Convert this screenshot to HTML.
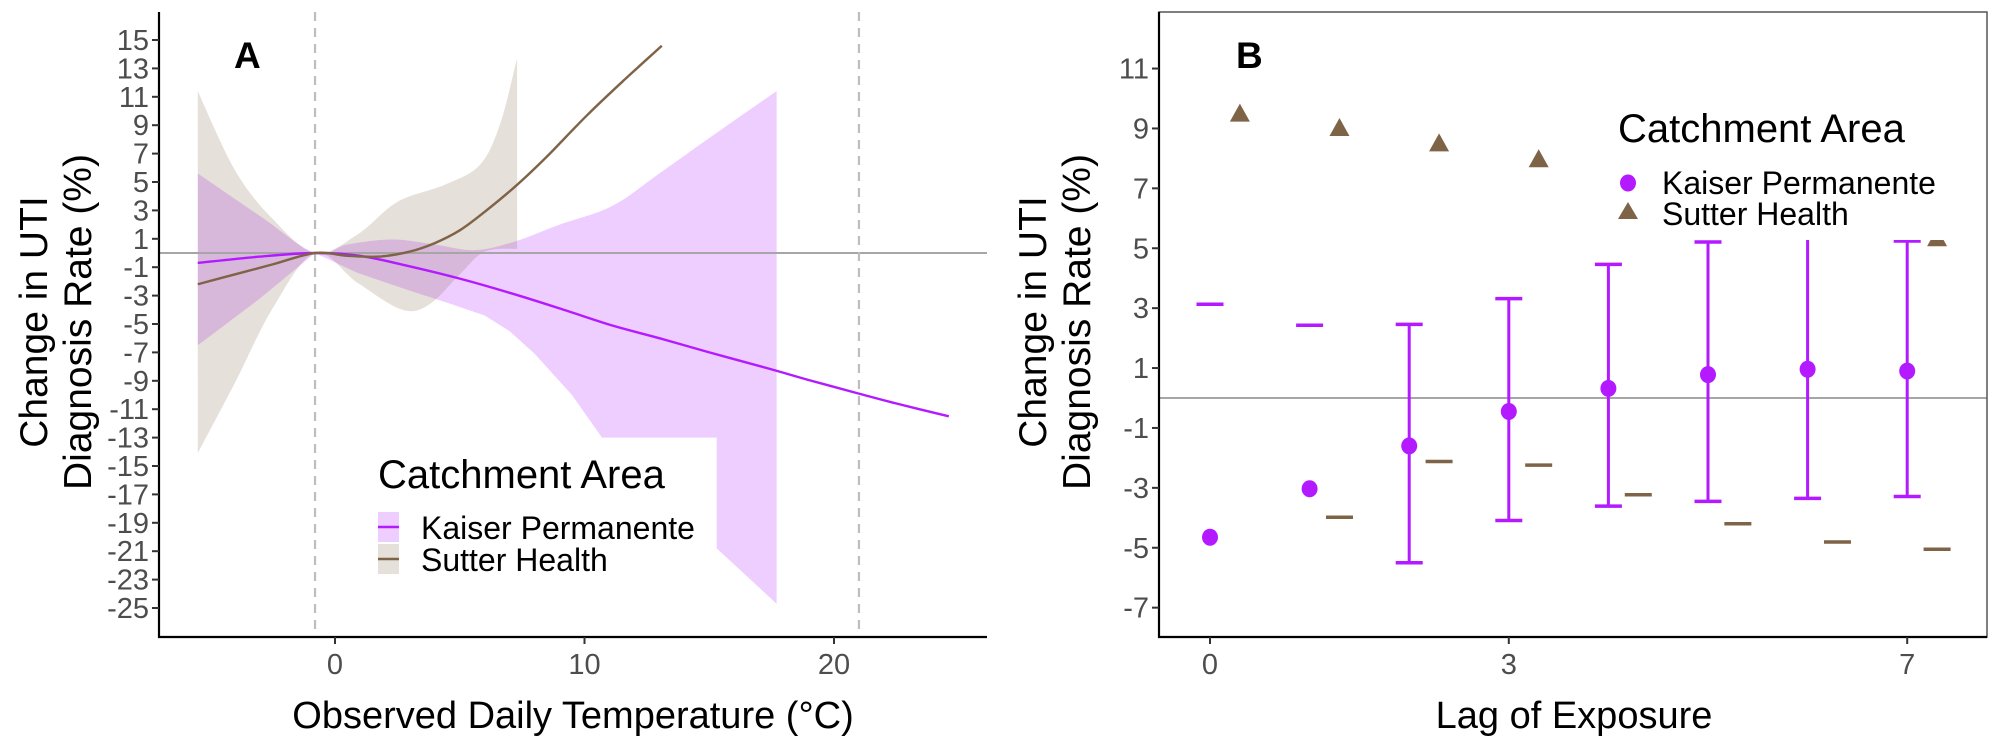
<!DOCTYPE html>
<html><head><meta charset="utf-8">
<style>
html,body{margin:0;padding:0;background:#fff;}
svg{display:block;font-family:"Liberation Sans",Arial,sans-serif;}
</style></head>
<body>
<svg id="chart" width="2000" height="750" viewBox="0 0 2000 750" xmlns="http://www.w3.org/2000/svg">
  <g id="panelA"></g>
  <g id="panelB"></g>
</svg>
<script>
// ---------- Panel A data ----------
const aYTicks = [15,13,11,9,7,5,3,1,-1,-3,-5,-7,-9,-11,-13,-15,-17,-19,-21,-23,-25];
const aXTicks = [0,10,20];
const aRefTemps = [-0.8, 21.0];
const kpBandUpperT = [-5.5,-3,-0.8,0.5,2.3,4,5.6,7.2,9,11.1,13,15,17.7];
const kpBandUpperV = [5.6,2.6,0,0.6,0.95,0.6,0.2,0.8,2.0,3.3,5.6,8.1,11.4];
const kpBandLowerT = [-5.5,-3,-0.8,0.9,2.9,4.5,6.0,7,8,9.5,10.7,15.3,15.3,17.7];
const kpBandLowerV = [-6.5,-3.2,0,-1.4,-2.6,-3.5,-4.4,-5.5,-7.1,-10,-13,-13,-20.8,-24.7];
const shBandUpperT = [-5.5,-4,-2.5,-0.8,0.9,2.5,4.4,5.8,6.6,7.3];
const shBandUpperV = [11.4,5.8,2.4,0,1.3,3.6,4.8,6.2,9,13.7];
const shBandLowerT = [-5.5,-4,-2.5,-0.8,0.9,2.7,3.8,5,6,7.3];
const shBandLowerV = [-14.1,-9.1,-3.9,0,-2.1,-4.0,-3.6,-1.5,0.1,0.3];
const kpLineT = [-5.5,-3,-0.8,1,2.9,5,7,9,11.1,13,15,17.3,19,21,22.5,24.6];
const kpLineV = [-0.7,-0.25,0,-0.2,-0.9,-1.8,-2.8,-3.9,-5.1,-6.0,-7.0,-8.1,-8.95,-9.9,-10.6,-11.5];
const shLineT = [-5.5,-4,-2.5,-0.8,0.5,1.8,3,4,5,6,7.3,8.5,10.1,11.6,13.1];
const shLineV = [-2.2,-1.5,-0.8,0,-0.2,-0.25,0.1,0.7,1.6,2.9,4.8,6.8,9.7,12.2,14.6];

// ---------- Panel B data ----------
const bYTicks = [11,9,7,5,3,1,-1,-3,-5,-7];
const bXTicks = [0,3,7];
const lags = [0,1,2,3,4,5,6,7];
const kpEst = [-4.65,-3.03,-1.6,-0.45,0.32,0.78,0.96,0.9];
const kpUpper = [3.13,2.43,2.46,3.32,4.46,5.21,5.6,5.24];
const kpLower = [null,null,-5.5,-4.09,-3.61,-3.45,-3.35,-3.29];
const shEst = [9.46,8.98,8.47,7.94,7.4,6.9,6.3,5.3];
const shLower = [null,-3.98,-2.12,-2.24,-3.23,-4.2,-4.81,-5.05];
const shOffset = 0.3;

const NS = "http://www.w3.org/2000/svg";
const PURPLE = "#b31aff", BROWN = "#7f6347";
function mk(parent, tag, attrs, text) {
  const e = document.createElementNS(NS, tag);
  for (const k in attrs) e.setAttribute(k, attrs[k]);
  if (text !== undefined) e.textContent = text;
  parent.appendChild(e);
  return e;
}
function path(xs, ys, sx, sy) {
  return xs.map((t,i)=>(i?"L":"M")+sx(t).toFixed(1)+","+sy(ys[i]).toFixed(1)).join("");
}
function smooth(xs, ys, sx, sy) {
  const p = xs.map((t,i)=>[sx(t), sy(ys[i])]);
  let d = "M"+p[0][0]+","+p[0][1];
  for (let i=0;i<p.length-1;i++){
    const p0=p[Math.max(0,i-1)], p1=p[i], p2=p[i+1], p3=p[Math.min(p.length-1,i+2)];
    const c1=[p1[0]+(p2[0]-p0[0])/6, p1[1]+(p2[1]-p0[1])/6];
    const c2=[p2[0]-(p3[0]-p1[0])/6, p2[1]-(p3[1]-p1[1])/6];
    d += "C"+c1[0].toFixed(1)+","+c1[1].toFixed(1)+" "+c2[0].toFixed(1)+","+c2[1].toFixed(1)+" "+p2[0].toFixed(1)+","+p2[1].toFixed(1);
  }
  return d;
}

// ---------- Panel A ----------
(function(){
  const g = document.getElementById("panelA");
  const L=159, R=987, T=12, B=637;
  const xA = t => 335 + t*24.95;
  const yA = v => 253 - v*14.2;

  const kpBand = mk(g,"path",{d: smooth(kpBandUpperT,kpBandUpperV,xA,yA) + path(kpBandLowerT.slice().reverse(),kpBandLowerV.slice().reverse(),xA,yA).replace(/^M/,"L")+"Z", fill:PURPLE, "fill-opacity":"0.22"});
  
  
  const shBand = mk(g,"path",{d: smooth(shBandUpperT,shBandUpperV,xA,yA) + smooth(shBandLowerT.slice().reverse(),shBandLowerV.slice().reverse(),xA,yA).replace(/^M/,"L")+"Z", fill:BROWN, "fill-opacity":"0.2"});
  
  

  const z = mk(g,"line",{x1:L,x2:R,y1:yA(0),y2:yA(0),stroke:"#a6a6a6","stroke-width":2});
  
  
  aRefTemps.forEach(t=>{
    const d = mk(g,"line",{x1:xA(t),x2:xA(t),y1:T,y2:B,stroke:"#bdbdbd","stroke-width":2.2,"stroke-dasharray":"9,7"});
    
    
  });
  const kl = mk(g,"path",{d:smooth(kpLineT,kpLineV,xA,yA),fill:"none",stroke:PURPLE,"stroke-width":2.4});
  
  
  const sl = mk(g,"path",{d:smooth(shLineT,shLineV,xA,yA),fill:"none",stroke:BROWN,"stroke-width":2.4});
  
  

  const ax = mk(g,"path",{d:`M${L},${T}L${L},${B}L${R},${B}`,fill:"none",stroke:"#000","stroke-width":2.2});
  
  
  aYTicks.forEach(v=>{
    mk(g,"line",{x1:L-7,x2:L,y1:yA(v),y2:yA(v),stroke:"#333","stroke-width":2});
    const t = mk(g,"text",{x:L-10,y:yA(v)+10,"text-anchor":"end","font-size":29,fill:"#4d4d4d"},v);
    
    
  });
  aXTicks.forEach(v=>{
    mk(g,"line",{x1:xA(v),x2:xA(v),y1:B,y2:B+7,stroke:"#333","stroke-width":2});
    const t = mk(g,"text",{x:xA(v),y:B+37,"text-anchor":"middle","font-size":29,fill:"#4d4d4d"},v);
    
    
  });
  const yt = mk(g,"text",{transform:"translate(47,322) rotate(-90)","text-anchor":"middle","font-size":39,fill:"#000"});
  
  
  mk(yt,"tspan",{x:0,dy:0},"Change in UTI");
  mk(yt,"tspan",{x:0,dy:44},"Diagnosis Rate (%)");
  const xt = mk(g,"text",{x:573,y:728,"text-anchor":"middle","font-size":38,fill:"#000"},"Observed Daily Temperature (°C)");
  
  
  const lab = mk(g,"text",{x:234,y:68,"font-size":37,"font-weight":"bold",fill:"#000"},"A");
  
  

  const lg = mk(g,"g",{});
  
  
  mk(lg,"text",{x:378,y:488,"font-size":40,fill:"#000"},"Catchment Area");
  mk(lg,"rect",{x:378,y:512,width:21,height:30,fill:PURPLE,"fill-opacity":"0.22"});
  mk(lg,"line",{x1:378,x2:399,y1:527,y2:527,stroke:PURPLE,"stroke-width":2.4});
  mk(lg,"rect",{x:378,y:544,width:21,height:30,fill:BROWN,"fill-opacity":"0.2"});
  mk(lg,"line",{x1:378,x2:399,y1:559,y2:559,stroke:BROWN,"stroke-width":2.4});
  const e1 = mk(lg,"text",{x:421,y:539,"font-size":32,fill:"#000"},"Kaiser Permanente");
  
  
  const e2 = mk(lg,"text",{x:421,y:571,"font-size":32,fill:"#000"},"Sutter Health");
  
  
})();

// ---------- Panel B ----------
(function(){
  const g = document.getElementById("panelB");
  const L=1159, R=1987, T=12, B=637;
  const xB = l => 1210 + l*99.6;
  const yB = v => 398 - v*29.95;
  const cap = 13.5;

  const z = mk(g,"line",{x1:L,x2:R,y1:yB(0),y2:yB(0),stroke:"#a6a6a6","stroke-width":2});
  
  

  lags.forEach((l,i)=>{
    const x = xB(l);
    if (kpLower[i] !== null) {
      const v = mk(g,"line",{x1:x,x2:x,y1:yB(kpUpper[i]),y2:yB(kpLower[i]),stroke:PURPLE,"stroke-width":3});
      
      
      mk(g,"line",{x1:x-cap,x2:x+cap,y1:yB(kpLower[i]),y2:yB(kpLower[i]),stroke:PURPLE,"stroke-width":3.5});
    }
    const c = mk(g,"line",{x1:x-cap,x2:x+cap,y1:yB(kpUpper[i]),y2:yB(kpUpper[i]),stroke:PURPLE,"stroke-width":3.5});
    
    
    const p = mk(g,"ellipse",{cx:x,cy:yB(kpEst[i]),rx:8,ry:8.5,fill:PURPLE});
    
    
    const sx = xB(l+shOffset);
    if (shLower[i] !== null) {
      const d = mk(g,"line",{x1:sx-cap,x2:sx+cap,y1:yB(shLower[i]),y2:yB(shLower[i]),stroke:BROWN,"stroke-width":3.5});
      
      
    }
    const sy = yB(shEst[i]);
    const tr = mk(g,"polygon",{points:`${sx},${sy-11} ${sx+10},${sy+7} ${sx-10},${sy+7}`,fill:BROWN});
    
    
  });

  const lg = mk(g,"g",{});
  
  
  mk(lg,"rect",{x:1602,y:88,width:350,height:152,fill:"#fff"});
  mk(lg,"text",{x:1618,y:142,"font-size":40,fill:"#000"},"Catchment Area");
  mk(lg,"ellipse",{cx:1628,cy:183,rx:8,ry:8.5,fill:PURPLE});
  mk(lg,"polygon",{points:"1628,202 1638,219 1618,219",fill:BROWN});
  const e1 = mk(lg,"text",{x:1662,y:194,"font-size":32,fill:"#000"},"Kaiser Permanente");
  
  
  const e2 = mk(lg,"text",{x:1662,y:225,"font-size":32,fill:"#000"},"Sutter Health");
  
  

  mk(g,"rect",{x:L,y:T,width:R-L,height:B-T,fill:"none",stroke:"#555","stroke-width":1.5});
  const ax = mk(g,"path",{d:`M${L},${T}L${L},${B}L${R},${B}`,fill:"none",stroke:"#000","stroke-width":2.2});
  
  
  bYTicks.forEach(v=>{
    mk(g,"line",{x1:L-7,x2:L,y1:yB(v),y2:yB(v),stroke:"#333","stroke-width":2});
    const t = mk(g,"text",{x:L-10,y:yB(v)+10,"text-anchor":"end","font-size":29,fill:"#4d4d4d"},v);
    
    
  });
  bXTicks.forEach(v=>{
    mk(g,"line",{x1:xB(v),x2:xB(v),y1:B,y2:B+7,stroke:"#333","stroke-width":2});
    const t = mk(g,"text",{x:xB(v),y:B+37,"text-anchor":"middle","font-size":29,fill:"#4d4d4d"},v);
    
    
  });
  const yt = mk(g,"text",{transform:"translate(1046,322) rotate(-90)","text-anchor":"middle","font-size":39,fill:"#000"});
  
  
  mk(yt,"tspan",{x:0,dy:0},"Change in UTI");
  mk(yt,"tspan",{x:0,dy:44},"Diagnosis Rate (%)");
  const xt = mk(g,"text",{x:1574,y:728,"text-anchor":"middle","font-size":38,fill:"#000"},"Lag of Exposure");
  
  
  const lab = mk(g,"text",{x:1236,y:68,"font-size":37,"font-weight":"bold",fill:"#000"},"B");
  
  
})();
</script>
</body></html>
